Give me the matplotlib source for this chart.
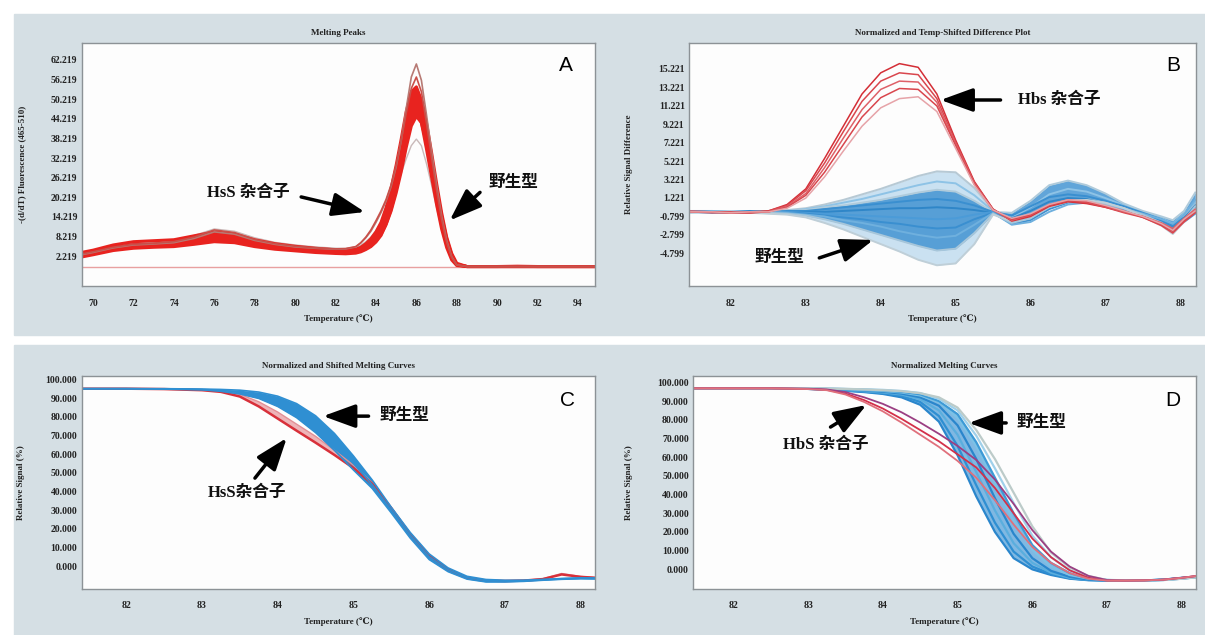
import matplotlib
matplotlib.use("Agg")
import matplotlib.pyplot as plt
from matplotlib.patches import Rectangle

W, H = 1205, 635

# ---------- panel A : melting peaks ----------
temp_a = [69.5, 70, 71, 72, 73, 74, 75, 76, 77, 78, 79, 80, 81, 82, 82.5, 83,
          83.25, 83.5, 83.75, 84, 84.25, 84.5, 84.75, 85, 85.25, 85.5, 85.75, 86,
          86.25, 86.5, 86.75, 87, 87.25, 87.5, 87.75, 88, 88.5, 89, 90, 91, 92, 93, 94, 94.8]
peak_wt1 = [2.6, 3.2, 4.6, 5.4, 5.6, 5.9, 6.8, 7.9, 7.4, 6.0, 5.0, 4.4, 3.9, 3.5, 3.4, 3.6,
            4.1, 4.9, 6.0, 7.6, 10.0, 14.0, 19.0, 25.5, 33.0, 41.5, 49.0, 49.5,
            44.5, 38.0, 29.5, 21.0, 13.0, 6.5, 2.0, -0.5, -1.0, -1.0, -1.0, -0.9, -1.0, -1.0, -1.0, -1.0]
peak_wt2 = [2.0, 2.6, 3.9, 4.6, 4.9, 5.1, 5.8, 6.6, 6.3, 5.1, 4.3, 3.8, 3.3, 3.0, 2.9, 3.1,
            3.5, 4.2, 5.1, 6.5, 8.5, 11.8, 16.0, 21.5, 28.0, 35.5, 42.0, 45.0,
            43.0, 37.0, 29.5, 21.5, 13.5, 7.0, 2.3, -0.4, -1.0, -1.0, -1.0, -1.0, -1.0, -1.0, -1.0, -1.0]
peak_wt3 = [3.4, 4.0, 5.6, 6.6, 6.9, 7.2, 8.4, 9.6, 9.0, 7.2, 6.0, 5.2, 4.6, 4.1, 4.0, 4.3,
            4.9, 6.0, 7.5, 9.6, 12.5, 17.0, 23.0, 30.0, 38.0, 46.5, 52.5, 54.0,
            50.0, 41.5, 32.0, 23.0, 14.5, 7.5, 2.5, -0.3, -1.0, -1.0, -1.0, -1.0, -1.0, -1.0, -1.0, -1.0]
peak_wt4 = [2.8, 3.4, 4.9, 5.7, 5.8, 6.1, 7.1, 8.4, 7.8, 6.2, 5.1, 4.5, 4.0, 3.6, 3.5, 3.8,
            4.4, 5.4, 6.8, 8.8, 11.5, 16.0, 21.5, 28.0, 35.0, 42.0, 47.0, 48.0,
            43.0, 35.0, 26.5, 18.0, 10.5, 4.8, 1.0, -0.7, -1.0, -1.0, -1.0, -1.0, -1.0, -1.0, -1.0, -1.0]
peak_wt5 = [2.4, 3.0, 4.4, 5.2, 5.5, 5.7, 6.5, 7.6, 7.1, 5.8, 4.8, 4.2, 3.7, 3.3, 3.2, 3.4,
            3.8, 4.5, 5.4, 6.8, 8.8, 12.0, 16.5, 22.5, 29.5, 38.0, 46.0, 51.5,
            50.0, 43.0, 34.0, 24.5, 15.5, 8.0, 3.0, 0.0, -1.0, -1.0, -1.0, -1.0, -1.0, -1.0, -1.0, -1.0]
peak_het1 = [2.7, 3.3, 4.7, 5.6, 5.9, 6.3, 7.6, 9.6, 8.9, 7.0, 5.8, 5.0, 4.6, 4.3, 4.4, 5.0,
             6.2, 7.8, 9.8, 12.5, 15.5, 19.0, 23.5, 29.5, 37.5, 47.5, 57.0, 61.0,
             56.0, 45.5, 34.5, 24.0, 14.5, 7.0, 2.0, -0.5, -1.0, -1.0, -1.0, -1.0, -1.0, -1.0, -1.0, -1.0]
peak_het2 = [2.9, 3.5, 4.9, 5.8, 6.1, 6.6, 8.0, 10.2, 9.4, 7.3, 6.0, 5.2, 4.7, 4.4, 4.5, 5.1,
             6.3, 8.0, 10.2, 13.0, 16.0, 19.5, 24.0, 30.0, 37.5, 46.0, 53.5, 57.0,
             52.5, 43.0, 32.5, 22.5, 13.5, 6.5, 1.8, -0.5, -1.0, -1.0, -1.0, -1.0, -1.0, -1.0, -1.0, -1.0]
peak_grey = [3.2, 3.8, 5.3, 6.2, 6.5, 7.0, 8.5, 10.5, 9.8, 7.8, 6.4, 5.6, 5.0, 4.6, 4.5, 4.8,
             5.5, 6.6, 8.0, 10.0, 12.5, 15.5, 19.0, 23.0, 27.5, 32.0, 36.0, 38.0,
             36.0, 30.5, 24.0, 17.0, 10.5, 5.0, 1.5, -0.5, -1.0, -1.0, -1.0, -1.0, -1.0, -1.0, -1.0, -1.0]
ticks_a_x = [70, 72, 74, 76, 78, 80, 82, 84, 86, 88, 90, 92, 94]
ticks_a_y = [2.219, 8.219, 14.219, 20.219, 26.219, 32.219, 38.219, 44.219, 50.219, 56.219, 62.219]

# ---------- panel B : difference plot ----------
temp_b = [81.45, 81.75, 82.0, 82.25, 82.5, 82.75, 83.0, 83.25, 83.5, 83.75, 84.0, 84.25,
          84.5, 84.75, 85.0, 85.25, 85.5, 85.75, 86.0, 86.25, 86.5, 86.75, 87.0, 87.25,
          87.5, 87.75, 87.9, 88.05, 88.2]
diff_het = [
    [-0.3, -0.3, -0.4, -0.4, -0.2, 0.5, 2.2, 5.5, 9.0, 12.5, 14.8, 15.8, 15.4, 12.5, 7.5, 3.0, 0.0, -1.3, -0.8, 0.3, 0.8, 0.6, 0.2, -0.3, -0.8, -1.6, -2.3, -1.2, -0.2],
    [-0.3, -0.4, -0.4, -0.3, -0.2, 0.4, 2.0, 5.0, 8.4, 11.7, 13.9, 14.8, 14.6, 12.0, 7.3, 2.9, 0.0, -1.2, -0.7, 0.4, 0.9, 0.7, 0.2, -0.4, -0.9, -1.7, -2.4, -1.3, -0.3],
    [-0.2, -0.3, -0.4, -0.4, -0.3, 0.3, 1.7, 4.5, 7.7, 10.8, 13.0, 13.9, 13.8, 11.6, 7.1, 2.8, -0.1, -1.2, -0.6, 0.5, 1.0, 0.8, 0.3, -0.3, -0.8, -1.5, -2.1, -1.0, 0.0],
    [-0.3, -0.3, -0.3, -0.4, -0.3, 0.2, 1.5, 4.0, 7.0, 10.0, 12.1, 13.1, 13.0, 11.2, 6.9, 2.7, -0.1, -1.1, -0.6, 0.4, 0.9, 0.8, 0.3, -0.2, -0.9, -1.8, -2.6, -1.4, -0.4],
    [-0.3, -0.3, -0.4, -0.3, -0.3, 0.1, 1.2, 3.5, 6.3, 9.0, 11.0, 12.0, 12.2, 10.6, 6.6, 2.6, -0.1, -1.0, -0.5, 0.5, 1.0, 0.9, 0.4, -0.2, -0.8, -1.6, -2.3, -1.1, -0.2],
]
diff_wt = [
    [-0.2, -0.2, -0.3, -0.3, -0.2, -0.1, 0.1, 0.5, 1.0, 1.6, 2.2, 2.9, 3.6, 4.1, 4.0, 2.3, -0.1, -1.2, -0.6, 0.4, 1.0, 1.1, 0.7, 0.1, -0.6, -1.5, -2.3, -0.8, 0.5],
    [-0.3, -0.2, -0.3, -0.4, -0.3, -0.2, 0.0, 0.3, 0.7, 1.1, 1.6, 2.1, 2.6, 3.0, 2.8, 1.5, -0.2, -0.9, 0.2, 1.6, 2.2, 1.9, 1.2, 0.4, -0.3, -1.0, -1.6, -0.5, 0.8],
    [-0.4, -0.3, -0.3, -0.3, -0.2, -0.2, -0.1, 0.2, 0.4, 0.7, 1.0, 1.4, 1.8, 2.1, 1.9, 0.9, -0.3, -0.4, 0.9, 2.6, 3.1, 2.6, 1.7, 0.6, -0.2, -0.8, -1.2, -0.2, 1.8],
    [-0.3, -0.3, -0.4, -0.3, -0.3, -0.2, -0.2, 0.0, 0.2, 0.4, 0.6, 0.8, 1.0, 1.1, 0.9, 0.4, -0.3, -0.7, 0.3, 1.3, 1.6, 1.4, 0.9, 0.3, -0.4, -1.1, -1.7, -0.9, 0.2],
    [-0.2, -0.3, -0.3, -0.2, -0.3, -0.3, -0.3, -0.3, -0.2, -0.1, 0.0, 0.1, 0.1, 0.2, 0.1, -0.1, -0.4, -1.0, -0.2, 0.8, 1.2, 1.1, 0.6, 0.0, -0.6, -1.3, -2.0, -1.0, 0.0],
    [-0.3, -0.4, -0.3, -0.3, -0.3, -0.3, -0.4, -0.5, -0.6, -0.7, -0.8, -0.9, -1.0, -1.1, -1.0, -0.6, -0.3, -1.4, -0.8, 0.4, 0.9, 0.9, 0.5, -0.1, -0.7, -1.4, -2.1, -1.4, -0.5],
    [-0.2, -0.3, -0.3, -0.3, -0.4, -0.4, -0.5, -0.7, -0.9, -1.1, -1.4, -1.6, -1.9, -2.1, -2.0, -1.1, -0.4, -1.6, -1.2, 0.0, 0.7, 0.8, 0.5, 0.0, -0.6, -1.2, -1.8, -1.0, 0.4],
    [-0.3, -0.3, -0.4, -0.4, -0.3, -0.4, -0.6, -0.8, -1.2, -1.5, -1.9, -2.4, -2.8, -3.1, -2.9, -1.7, -0.4, -1.7, -1.4, -0.3, 0.5, 0.7, 0.5, 0.0, -0.5, -1.1, -1.6, -0.6, 1.0],
    [-0.3, -0.3, -0.3, -0.4, -0.4, -0.5, -0.7, -1.1, -1.6, -2.2, -2.8, -3.4, -4.0, -4.5, -4.3, -2.6, -0.5, -1.5, -1.0, 0.2, 0.8, 0.9, 0.6, 0.1, -0.6, -1.5, -2.5, -1.2, 0.3],
    [-0.3, -0.3, -0.4, -0.4, -0.5, -0.6, -0.9, -1.5, -2.2, -3.0, -3.8, -4.6, -5.5, -6.1, -5.9, -3.8, -0.6, -1.3, -0.8, 0.3, 0.9, 1.0, 0.7, 0.1, -0.8, -1.8, -2.7, -1.4, 0.0],
]
ticks_b_y = [-4.799, -2.799, -0.799, 1.221, 3.221, 5.221, 7.221, 9.221, 11.221, 13.221, 15.221]
ticks_x = [82, 83, 84, 85, 86, 87, 88]
ticks_pct = [0, 10, 20, 30, 40, 50, 60, 70, 80, 90, 100]

# ---------- panel C : normalized and shifted ----------
temp_c = [81.4, 82, 82.5, 83, 83.25, 83.5, 83.75, 84, 84.25, 84.5, 84.75, 85, 85.25,
          85.5, 85.75, 86, 86.25, 86.5, 86.75, 87, 87.25, 87.5, 87.75, 88, 88.2]
shift_wt_hi = [95.0, 95.0, 95.0, 94.8, 94.6, 94.2, 93.2, 91.0, 87.0, 80.5, 71.0, 59.0, 46.0,
               31.5, 18.0, 6.5, -1.0, -5.5, -7.2, -7.6, -7.6, -7.2, -6.7, -6.3, -6.4]
shift_wt_mid = [95.0, 95.0, 94.9, 94.6, 94.1, 93.2, 91.5, 88.3, 83.3, 76.0, 66.5, 55.0, 43.5,
                30.0, 16.5, 5.0, -2.0, -6.2, -7.8, -8.0, -7.8, -7.3, -6.8, -6.5, -6.6]
shift_wt_lo = [95.0, 95.0, 94.8, 94.4, 93.6, 92.2, 89.8, 85.5, 79.5, 71.5, 62.0, 51.5, 41.5,
               28.5, 15.0, 3.5, -3.0, -7.0, -8.5, -8.5, -8.2, -7.6, -7.1, -6.8, -6.9]
shift_het_hi = [95.0, 95.0, 94.9, 94.4, 93.8, 92.0, 88.0, 82.5, 76.0, 69.5, 62.0, 54.0, 44.5,
                31.5, 17.5, 6.0, -1.5, -6.0, -7.6, -7.9, -7.7, -6.8, -4.0, -5.6, -6.2]
shift_het_lo = [95.0, 95.0, 94.8, 94.2, 93.3, 90.8, 85.5, 79.0, 72.5, 66.1, 59.5, 52.5, 44.0,
                31.0, 17.0, 5.5, -1.8, -6.2, -7.8, -8.0, -7.8, -7.0, -4.5, -5.8, -6.3]

# ---------- panel D : normalized melting curves ----------
temp_d = [81.45, 82, 82.5, 83, 83.25, 83.5, 83.75, 84, 84.25, 84.5, 84.75, 85, 85.25,
          85.5, 85.75, 86, 86.25, 86.5, 86.75, 87, 87.25, 87.5, 87.75, 88, 88.2]
norm_wt = [
    [96.8, 96.8, 96.8, 96.5, 96.0, 95.5, 94.8, 93.8, 92.0, 88.0, 79.0, 61.0, 39.0, 20.0, 6.0, 0.0, -3.0, -5.0, -5.8, -6.0, -6.0, -5.9, -5.5, -4.5, -3.8],
    [96.8, 96.8, 96.8, 96.5, 96.1, 95.6, 95.0, 94.2, 92.8, 89.5, 82.0, 66.0, 45.0, 25.0, 9.5, 1.5, -2.5, -4.8, -5.7, -6.0, -6.0, -5.9, -5.5, -4.6, -3.9],
    [96.8, 96.8, 96.8, 96.6, 96.3, 95.9, 95.3, 94.6, 93.5, 91.0, 85.0, 72.0, 52.0, 31.5, 14.0, 3.5, -1.8, -4.5, -5.6, -5.9, -6.0, -5.9, -5.6, -4.8, -4.0],
    [96.8, 96.8, 96.8, 96.6, 96.4, 96.1, 95.6, 95.0, 94.0, 92.0, 87.5, 77.0, 59.0, 38.0, 19.0, 6.0, -0.8, -4.0, -5.5, -5.9, -6.0, -5.9, -5.6, -4.8, -4.0],
    [96.8, 96.8, 96.8, 96.7, 96.5, 96.3, 95.9, 95.4, 94.6, 93.0, 89.5, 81.0, 66.0, 46.0, 26.0, 10.5, 1.5, -3.0, -5.0, -5.8, -6.0, -5.9, -5.6, -4.9, -4.1],
    [96.8, 96.8, 96.8, 96.7, 96.6, 96.4, 96.1, 95.7, 95.0, 93.6, 90.0, 83.0, 68.0, 49.0, 30.0, 13.0, 3.5, -2.0, -4.8, -5.7, -5.9, -5.9, -5.7, -5.0, -4.2],
    [96.8, 96.8, 96.8, 96.8, 96.7, 96.5, 96.3, 96.0, 95.4, 94.3, 91.2, 85.0, 71.5, 54.0, 35.5, 18.0, 6.5, -0.5, -4.3, -5.6, -5.9, -5.9, -5.7, -5.0, -4.2],
    [96.8, 96.8, 96.8, 96.8, 96.7, 96.5, 96.2, 95.8, 95.3, 94.2, 92.0, 86.5, 74.5, 59.0, 41.0, 23.0, 9.0, 1.0, -3.5, -5.7, -6.0, -5.9, -5.7, -5.0, -4.2],
]
norm_het = [
    [96.8, 96.8, 96.8, 96.5, 96.0, 94.0, 90.5, 86.0, 80.5, 74.5, 68.5, 61.5, 54.5, 43.5, 30.0, 16.5, 6.5, -0.5, -4.5, -6.0, -6.0, -5.9, -5.5, -4.5, -3.5],
    [96.8, 96.8, 96.8, 96.6, 96.2, 94.8, 92.0, 88.5, 84.0, 78.5, 72.5, 66.0, 58.5, 48.0, 35.0, 21.0, 9.5, 1.5, -3.5, -5.7, -6.0, -5.9, -5.5, -4.5, -3.6],
    [96.8, 96.8, 96.8, 96.4, 95.8, 93.5, 89.5, 84.5, 78.5, 72.0, 65.5, 58.0, 49.0, 37.0, 24.0, 12.0, 3.5, -2.0, -5.0, -6.0, -6.0, -5.9, -5.5, -4.5, -3.5],
]

serif = ["Liberation Serif", "DejaVu Serif", "Noto Sans CJK SC"]
note_font = ["Liberation Serif", "Noto Sans CJK SC"]
panel_bg = "#d5dfe4"

fig = plt.figure(figsize=(W / 100, H / 100), dpi=100)
fig.patch.set_facecolor("white")
# grey panel backgrounds
fig.add_artist(Rectangle((14 / W, 1 - 335 / H), (W - 14) / W, 321 / H,
                         transform=fig.transFigure, color=panel_bg, zorder=-5))
fig.add_artist(Rectangle((14 / W, 0), (W - 14) / W, 1 - 345 / H,
                         transform=fig.transFigure, color=panel_bg, zorder=-5))


def make_axes(l, t, r, b):
    ax = fig.add_axes([l / W, 1 - b / H, (r - l) / W, (b - t) / H])
    ax.set_facecolor("#fdfdfd")
    for s in ax.spines.values():
        s.set_color("#8c9296")
        s.set_linewidth(1.0)
    ax.tick_params(length=0, labelsize=7, colors="#222222")
    ax.tick_params(axis="x", pad=9)
    ax.tick_params(axis="y", pad=3)
    return ax


def style(ax, title, ylabel, ylab_x, fmt):
    ax.set_title(title, fontsize=6.5, fontweight="bold", family=serif, pad=6, color="#222222")
    ax.set_xlabel("Temperature (℃)", fontsize=6.5, fontweight="bold", family=serif,
                  labelpad=5, color="#222222")
    ax.set_ylabel(ylabel, fontsize=6.5, fontweight="bold", family=serif, color="#222222")
    ax.yaxis.set_label_coords(ylab_x, 0.5)
    ax.set_xticks(ax.get_xticks())
    ax.set_xticklabels([str(int(v)) for v in ax.get_xticks()], family=serif, fontweight="bold")
    ax.set_yticklabels([fmt % v for v in ax.get_yticks()], family=serif, fontweight="bold")


def note(ax, text, xy, tail, head):
    ax.text(xy[0], xy[1], text, fontsize=12, fontweight="bold", family=note_font,
            ha="center", va="center", color="#111111")
    ax.annotate("", xy=head, xytext=tail,
                arrowprops=dict(arrowstyle="-|>,head_length=1.1,head_width=0.4",
                                color="black", lw=2.5, shrinkA=0, shrinkB=0,
                                mutation_scale=18))


def letter(ax, s, x, y):
    ax.text(x, y, s, transform=ax.transAxes, fontsize=15, family="Liberation Sans",
            ha="center", va="center")


# ---- A ----
axA = make_axes(81.5, 43, 595, 286)
axA.axhline(-1.0, color="#e8a0a0", lw=1.0, zorder=1)
axA.plot(temp_a, peak_grey, color="#c9b9b9", lw=1.0)
axA.fill_between(temp_a, peak_wt2, peak_wt3, color="#e8231f", lw=0)
for curve in [peak_wt1, peak_wt2, peak_wt3, peak_wt4, peak_wt5]:
    axA.plot(temp_a, curve, color="#e8231f", lw=2.2)
axA.plot(temp_a, peak_het1, color="#b77a74", lw=1.2)
axA.plot(temp_a, peak_het2, color="#c9504a", lw=1.2)
axA.set_xlim(69.43, 94.84)
axA.set_ylim(-6.96, 67.42)
axA.set_xticks(ticks_a_x)
axA.set_yticks(ticks_a_y)
style(axA, "Melting Peaks", "-(d/dT) Fluorescence (465-510)", -0.107, "%.3f")
note(axA, "HsS 杂合子", (77.7, 21.5), (80.3, 20.3), (83.45, 15.7))
note(axA, "野生型", (90.8, 24.5), (89.15, 21.7), (87.65, 13.1))
letter(axA, "A", 0.944, 0.909)

# ---- B ----
axB = make_axes(689, 43, 1196, 286)
axB.fill_between(temp_b, diff_wt[0], diff_wt[9], color="#8cbfe3", alpha=0.45, lw=0)
axB.fill_between(temp_b, diff_wt[2], diff_wt[8], color="#3a8fd0", alpha=0.8, lw=0)
wt_cols = ["#b7c9d4", "#8ec3e6", "#b0cbdb", "#3a8fd0", "#2f86c8", "#4b9bd8", "#3a8fd0",
           "#6fb0de", "#a7c6da", "#bfcfd8"]
for curve, col in zip(diff_wt, wt_cols):
    axB.plot(temp_b, curve, color=col, lw=1.4)
het_cols = ["#d42e36", "#d9464d", "#de6068", "#d9464d", "#e6a3a8"]
for curve, col in zip(diff_het, het_cols):
    axB.plot(temp_b, curve, color=col, lw=1.1)
axB.set_xlim(81.44, 88.21)
axB.set_ylim(-8.35, 18.04)
axB.set_xticks(ticks_x)
axB.set_yticks(ticks_b_y)
style(axB, "Normalized and Temp-Shifted Difference Plot", "Relative Signal Difference",
      -0.111, "%.3f")
note(axB, "Hbs 杂合子", (86.39, 11.85), (85.6, 11.85), (84.8, 11.85))
note(axB, "野生型", (82.65, -5.3), (83.18, -5.3), (83.9, -3.35))
letter(axB, "B", 0.955, 0.909)

# ---- C ----
axC = make_axes(81.5, 376, 595, 589)
axC.fill_between(temp_c, shift_het_lo, shift_het_hi, color="#eeb4b8", lw=0)
axC.plot(temp_c, shift_het_hi, color="#e28f96", lw=1.0)
axC.plot(temp_c, shift_het_lo, color="#d8303a", lw=1.8)
axC.fill_between(temp_c, shift_wt_lo, shift_wt_hi, color="#2f8fd2", lw=0)
for curve in [shift_wt_hi, shift_wt_mid, shift_wt_lo]:
    axC.plot(temp_c, curve, color="#2f8fd2", lw=1.2)
axC.set_xlim(81.41, 88.19)
axC.set_ylim(-12.3, 101.8)
axC.set_xticks(ticks_x)
axC.set_yticks(ticks_pct)
style(axC, "Normalized and Shifted Melting Curves", "Relative Signal (%)", -0.11, "%.3f")
note(axC, "野生型", (85.67, 80.3), (85.2, 80.3), (84.6, 80.3))
note(axC, "HsS杂合子", (83.59, 39.1), (83.7, 47.1), (84.12, 68.6))
letter(axC, "C", 0.947, 0.887)

# ---- D ----
axD = make_axes(693, 376, 1196, 589)
axD.fill_between(temp_d, norm_wt[0], norm_wt[5], color="#3d94d4", alpha=0.65, lw=0)
norm_cols = ["#2a86cc", "#2f8fd2", "#5aaede", "#2a86cc", "#7cc2e6", "#3d9ad6", "#9fd0ea",
             "#bccbc9"]
for curve, col in zip(norm_wt, norm_cols):
    axD.plot(temp_d, curve, color=col, lw=1.6)
for curve, col in zip(norm_het, ["#d3304a", "#9b3f83", "#e0707c"]):
    axD.plot(temp_d, curve, color=col, lw=1.3)
axD.set_xlim(81.46, 88.19)
axD.set_ylim(-10.5, 103.4)
axD.set_xticks(ticks_x)
axD.set_yticks(ticks_pct)
style(axD, "Normalized Melting Curves", "Relative Signal (%)", -0.12, "%.3f")
note(axD, "HbS 杂合子", (83.23, 66.5), (83.3, 76.1), (83.78, 87.9))
note(axD, "野生型", (86.12, 78.3), (85.65, 78.3), (85.15, 78.3))
letter(axD, "D", 0.954, 0.887)

fig.savefig("out.png", dpi=100, facecolor=fig.get_facecolor())
